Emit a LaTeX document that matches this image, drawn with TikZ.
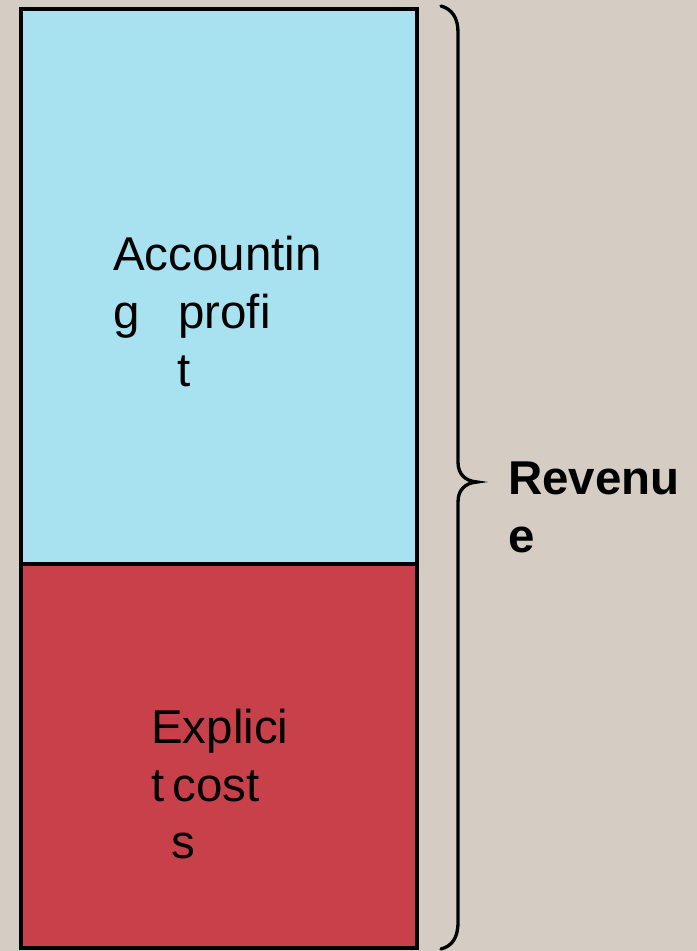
\documentclass[tikz,border=0pt]{standalone}
\usepackage{fontspec}
\setmainfont{Liberation Sans}
\definecolor{bgc}{RGB}{213,205,195}
\definecolor{blueA}{RGB}{168,226,240}
\definecolor{redA}{RGB}{200,65,74}
\begin{document}
\begin{tikzpicture}[x=0.75pt,y=-0.75pt,
  lbl/.style={anchor=base west,inner sep=0pt,font=\fontsize{35.6}{40}\selectfont},
  blbl/.style={lbl,font=\fontsize{35.6}{40}\selectfont\bfseries},
  box/.style={draw=black,line width=2.4pt},
  bracepath/.style={draw=black,line width=2.5pt,line cap=round}]
\fill[bgc] (0,0) rectangle (697,951);
\useasboundingbox (0,0) rectangle (697,951);
\fill[blueA] (21,9) rectangle (417,564);
\fill[redA] (21,564) rectangle (417,948);
\draw[box] (21,9) rectangle (417,948);
\draw[box] (21,564) -- (417,564);
% brace
\draw[bracepath] (441,6) .. controls (452,9) and (458,18) .. (458,32) -- (458,462) .. controls (458,474) and (465,481) .. (477,482) .. controls (465,483) and (458,490) .. (458,502) -- (458,922) .. controls (458,938) and (452,946) .. (441,949);
% texts
\node[lbl] (acc1) at (113,270) {Accountin};
\node[lbl] (acc2) at (113,328) {g};
\node[lbl] (acc3) at (178,328) {profi};
\node[lbl] (acc4) at (177,386) {t};
\node[lbl] (exp1) at (151,743) {Explici};
\node[lbl] (exp2) at (151,801) {t};
\node[lbl] (exp3) at (172,801) {cost};
\node[lbl] (exp4) at (171,858) {s};
\node[blbl] (rev1) at (508,494) {Revenu};
\node[blbl] (rev2) at (508,552) {e};
\end{tikzpicture}
\end{document}
